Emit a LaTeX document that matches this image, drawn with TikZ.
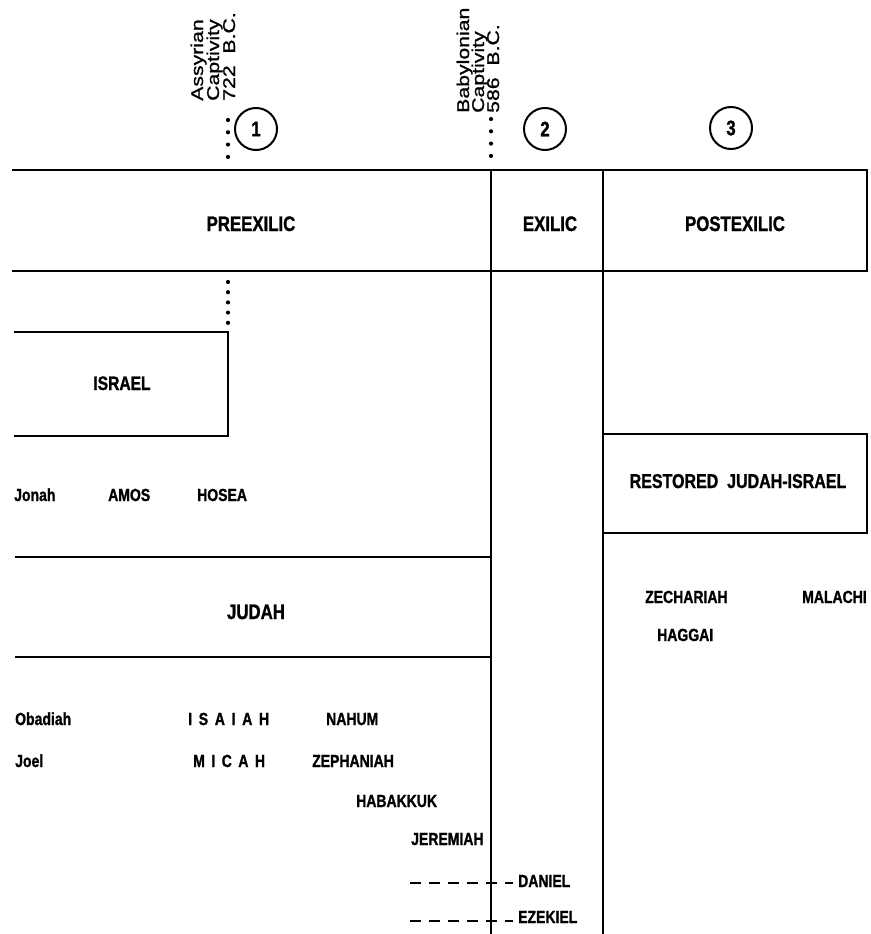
\documentclass[tikz,border=0pt]{standalone}
\usepackage{fontspec}
\newfontfamily\hfont{Liberation Sans}[FakeStretch=0.8,FakeBold=1.2]
\newfontfamily\rfont{Liberation Sans}[FakeStretch=1.25,FakeBold=1.0]
\begin{document}
\begin{tikzpicture}[x=1pt,y=-1pt,
  rule/.style={line width=2pt},
  head/.style={font=\hfont\bfseries\fontsize{21}{24}\selectfont, inner sep=0pt, anchor=base},
  pname/.style={font=\hfont\bfseries\fontsize{17.5}{20}\selectfont, inner sep=0pt, anchor=base west},
  rot/.style={font=\rfont\fontsize{17}{18}\selectfont, inner sep=0pt, anchor=base west, rotate=90},
  num/.style={draw, circle, line width=2pt, minimum size=42pt, inner sep=0pt, font=\hfont\bfseries\fontsize{21}{24}\selectfont},
  dots/.style={line width=4.2pt, line cap=round, dash pattern=on 0pt off 12.3pt},
  dots2/.style={line width=4.2pt, line cap=round, dash pattern=on 0pt off 10.2pt},
  dashline/.style={line width=2.2pt, dash pattern=on 11pt off 8pt}]
\useasboundingbox (0,0) rectangle (870,934);

% header band
\coordinate (tl) at (12,170);
\coordinate (tr) at (867,170);
\coordinate (bl) at (12,271);
\coordinate (br) at (867,271);
\draw[rule] (tl) -- (tr) -- (br) -- (bl);
\coordinate (v1t) at (491,170);
\coordinate (v1b) at (491,934);
\coordinate (v2t) at (603,170);
\coordinate (v2b) at (603,934);
\draw[rule] (v1t) -- (v1b);
\draw[rule] (v2t) -- (v2b);

\node[head] (pre) at (251,231) {PREEXILIC};
\node[head] (exi) at (550,231) {EXILIC};
\node[head] (post) at (735,231) {POSTEXILIC};

% captivity labels
\node[rot] (as1) at (203,101) {Assyrian};
\node[rot] (as2) at (219,101) {Captivity};
\node[rot] (as3) at (235,101) {722\ \ B.C.};
\node[rot] (ba1) at (469,113) {Babylonian};
\node[rot] (ba2) at (484,113) {Captivity};
\node[rot] (ba3) at (499,113) {586\ \ B.C.};

\coordinate (d1a) at (228,120);
\coordinate (d1b) at (228,157.5);
\draw[dots] (d1a) -- (d1b);
\coordinate (d2a) at (491,119);
\coordinate (d2b) at (491,156.5);
\draw[dots] (d2a) -- (d2b);
\coordinate (d3a) at (228,282);
\coordinate (d3b) at (228,323);
\draw[dots2] (d3a) -- (d3b);

\node[num] (n1) at (256,129) {1};
\node[num] (n2) at (545,129) {2};
\node[num] (n3) at (731,128) {3};

% Israel box
\coordinate (i1) at (14,332);
\coordinate (i2) at (228,332);
\coordinate (i3) at (228,436);
\coordinate (i4) at (14,436);
\draw[rule] (i1) -- (i2) -- (i3) -- (i4);
\node[head, font=\hfont\bfseries\fontsize{19.5}{22}\selectfont] (isr) at (122,390) {ISRAEL};

\node[pname] (jonah) at (14,501) {Jonah};
\node[pname] (amos) at (108,501) {AMOS};
\node[pname] (hosea) at (197,501) {HOSEA};

% Judah box
\coordinate (j1) at (15,557);
\coordinate (j2) at (491,557);
\coordinate (j3) at (15,657);
\coordinate (j4) at (491,657);
\draw[rule] (j1) -- (j2);
\draw[rule] (j3) -- (j4);
\node[head] (judah) at (256,619) {JUDAH};

\node[pname] (obad) at (15,725) {Obadiah};
\node[pname] (isa) at (188,725) {I\hspace{6.7pt}S\hspace{6.7pt}A\hspace{6.7pt}I\hspace{6.7pt}A\hspace{6.7pt}H};
\node[pname] (nahum) at (326,725) {NAHUM};
\node[pname] (joel) at (15,767) {Joel};
\node[pname] (micah) at (193,767) {M\hspace{6.5pt}I\hspace{6.5pt}C\hspace{6.5pt}A\hspace{6.5pt}H};
\node[pname] (zeph) at (312,767) {ZEPHANIAH};
\node[pname] (hab) at (356,807) {HABAKKUK};
\node[pname] (jer) at (411,845) {JEREMIAH};

\coordinate (da) at (410,883);
\coordinate (db) at (513,883);
\draw[dashline] (da) -- (db);
\node[pname] (dan) at (518,887) {DANIEL};
\coordinate (ea) at (410,921);
\coordinate (eb) at (513,921);
\draw[dashline] (ea) -- (eb);
\node[pname] (eze) at (518,923) {EZEKIEL};

% Restored box
\coordinate (r1) at (603,434);
\coordinate (r2) at (867,533);
\draw[rule] (r1) rectangle (r2);
\node[head, font=\hfont\bfseries\fontsize{20}{23}\selectfont] (rest) at (738,488) {RESTORED\ \ JUDAH-ISRAEL};

\node[pname] (zech) at (645,603) {ZECHARIAH};
\node[pname] (mal) at (802,603) {MALACHI};
\node[pname] (hag) at (657,641) {HAGGAI};
\end{tikzpicture}
\end{document}
